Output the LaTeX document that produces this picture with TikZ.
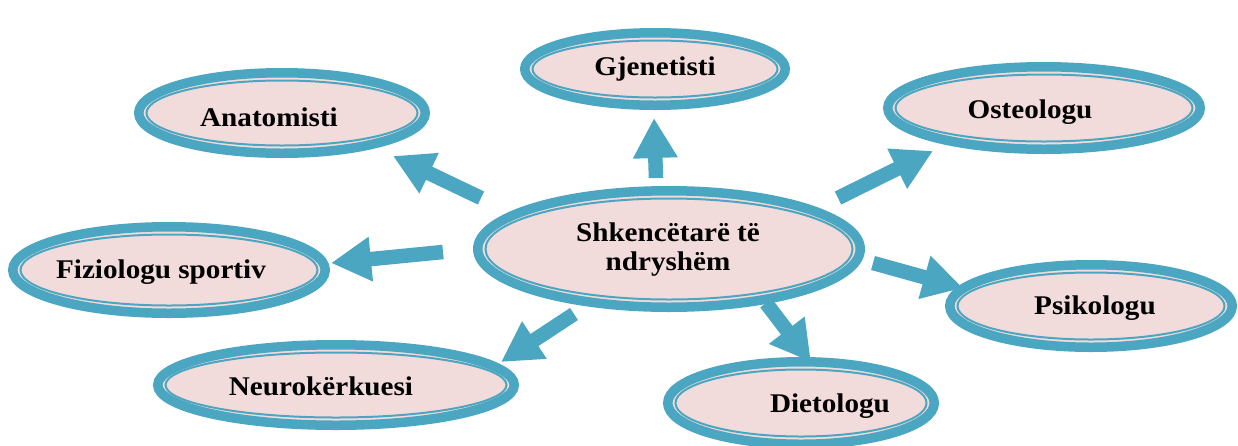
\documentclass[tikz,border=0pt]{standalone}
\usepackage{fontspec}
\setmainfont{Liberation Serif}[FakeStretch=1.08]
\usetikzlibrary{shapes.geometric,arrows.meta}
\definecolor{rimteal}{HTML}{4BA7C1}
\definecolor{bubblepink}{HTML}{F2DBDB}

\tikzset{
  bubble/.style={ellipse, draw=rimteal, line width=9.5pt, fill=bubblepink, inner sep=0pt},
  innerrim/.style={draw=rimteal, line width=2pt},
  caption/.style={anchor=base, font=\fontsize{27}{29}\selectfont\bfseries, text=black, align=center, inner sep=0pt},
  fatarrow/.style={draw=rimteal, line width=14.5pt, -{Triangle[length=40pt,width=42pt]}}
}

% name, x, y, x radius, y radius (outer edge of the rim)
\newcommand\bubblenode[5]{%
  \node[bubble, minimum width={2*#4pt-9.5pt}, minimum height={2*#5pt-9.5pt}] (#1) at (#2,#3) {};
  \draw[innerrim] (#1.center) ellipse [x radius={#4-12.5}, y radius={#5-12.5}];
}

\begin{document}
\begin{tikzpicture}[x=1pt,y=-1pt]
\useasboundingbox (0,0) rectangle (1238,445);

% arrows from the central bubble outwards
\coordinate (s-anat) at (481,198);  \coordinate (e-anat) at (393,156);
\coordinate (s-gjen) at (656,178);  \coordinate (e-gjen) at (654,118);
\coordinate (s-oste) at (838,198);  \coordinate (e-oste) at (933,151);
\coordinate (s-fizi) at (443,252);  \coordinate (e-fizi) at (331,263);
\coordinate (s-psik) at (873,263);  \coordinate (e-psik) at (963,288);
\coordinate (s-neur) at (574,314);  \coordinate (e-neur) at (501,362);
\coordinate (s-diet) at (766,303);  \coordinate (e-diet) at (811,362);

% bubbles
\bubblenode{center}{669}{249}{196}{63}
\bubblenode{gjen}{655}{69}{135}{41}
\bubblenode{anat}{282}{113}{148}{45}
\bubblenode{oste}{1044}{108}{161}{46}
\bubblenode{fizi}{169}{270}{161}{48}
\bubblenode{psik}{1091}{306}{146}{46}
\bubblenode{neur}{336}{385}{183}{45}
\bubblenode{diet}{801}{403}{138}{46}

\foreach \k in {anat,gjen,oste,fizi,psik,neur,diet}
  \draw[fatarrow] (s-\k) -- (e-\k);

% captions (base anchor sits on the last line's baseline)
\node[caption] (t-center) at (668,270) {Shkencëtarë të\\ndryshëm};
\node[caption] (t-gjen) at (655,75) {Gjenetisti};
\node[caption] (t-anat) at (269,126) {Anatomisti};
\node[caption] (t-oste) at (1030,118) {Osteologu};
\node[caption] (t-fizi) at (161,278) {Fiziologu sportiv};
\node[caption] (t-psik) at (1095,314) {Psikologu};
\node[caption] (t-neur) at (321,395) {Neurokërkuesi};
\node[caption] (t-diet) at (830,412) {Dietologu};
\end{tikzpicture}
\end{document}
